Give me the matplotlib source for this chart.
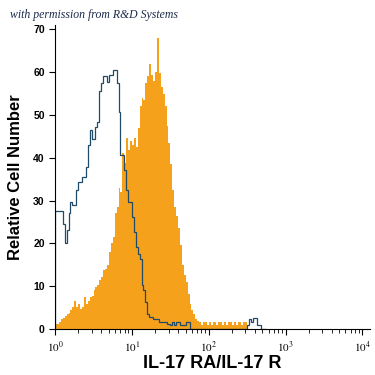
import numpy as np
import matplotlib
matplotlib.use("Agg")
import matplotlib.pyplot as plt

plt.rcParams['font.family'] = ['Liberation Sans', 'DejaVu Sans']
plt.rcParams['mathtext.fontset'] = 'stix'

# histogram channels: 40 bins per decade, starting at 10^0
bins_per_decade = 40

# IL-17 RA/IL-17 R stained cells (filled orange)
stained = [1.2, 1.2, 1.5, 2.3, 2.6, 3.0, 3.5, 3.8, 4.3, 5.0,
           6.5, 5.0, 5.9, 4.7, 5.2, 7.4, 5.9, 6.5, 7.4, 7.8,
           9.0, 9.8, 10.2, 11.5, 12.1, 13.7, 14.0, 15.0, 18.0, 20.0,
           21.5, 27.0, 28.5, 33.0, 32.0, 41.0, 38.7, 44.5, 41.8, 44.0,
           43.0, 44.5, 42.6, 47.0, 52.0, 54.0, 53.5, 57.4, 59.0, 62.0,
           59.4, 58.0, 60.0, 68.0, 59.8, 56.6, 55.0, 52.0, 47.5, 43.5,
           38.5, 32.4, 28.5, 26.5, 23.5, 19.5, 15.0, 12.5, 11.0, 8.2,
           5.9, 4.5, 3.5, 2.2, 1.8, 1.6, 0.8, 1.6, 1.6, 0.8,
           1.6, 0.8, 1.6, 1.6, 0.8, 1.6, 1.6, 0.8, 1.6, 0.8,
           1.6, 1.6, 0.8, 1.6, 0.8, 1.6, 1.6, 0.8, 1.6, 1.6]

# isotype control (outline)
control = [27.6, 27.6, 27.6, 27.6, 24.5, 20.0, 23.0, 27.0, 29.7, 28.9,
           28.9, 32.4, 34.4, 34.4, 35.5, 35.5, 37.9, 43.0, 46.6, 44.3,
           44.3, 47.3, 48.4, 55.5, 57.4, 59.0, 59.0, 57.8, 59.4, 59.4,
           60.5, 60.5, 57.4, 50.8, 40.6, 40.6, 37.1, 32.4, 29.7, 29.7,
           26.2, 22.7, 19.1, 17.6, 16.4, 10.2, 9.0, 6.2, 3.5, 2.7,
           2.7, 2.3, 2.3, 2.3, 1.6, 1.6, 1.6, 1.6, 1.2, 1.2,
           0.8, 1.6, 0.8, 1.6, 1.6, 0.8, 0.8, 0.8, 1.6, 1.6,
           0, 0, 0, 0, 0, 0, 0, 0, 0, 0,
           0, 0, 0, 0, 0, 0, 0, 0, 0, 0,
           0, 0, 0, 0, 0, 0, 0, 0, 0, 0,
           1.0, 2.3, 1.6, 2.5, 2.5, 0.8, 0.8, 0, 0, 0]

stained_edges = 10 ** (np.arange(len(stained) + 1) / bins_per_decade)
control_edges = 10 ** (np.arange(len(control) + 1) / bins_per_decade)

fig = plt.figure(figsize=(3.75, 3.75), dpi=100)
ax = fig.add_axes([0.147, 0.123, 0.84, 0.81])

ax.stairs(stained, stained_edges, fill=True, color='#f5a11c', linewidth=0)
ax.stairs(control, control_edges, color='#1f4a68', linewidth=0.9)

ax.set_xscale('log')
ax.set_xlim(1, 10 ** 4.1)
ax.set_ylim(0, 71)
ax.set_xticks([1, 10, 100, 1000, 10000])
ax.set_xticklabels(['$10^{0}$', '$10^{1}$', '$10^{2}$', '$10^{3}$', '$10^{4}$'], fontsize=8)
ax.set_yticks(range(0, 71, 10))
ax.tick_params(axis='y', labelsize=7.5, length=4, width=0.8)
ax.tick_params(axis='x', which='major', length=4, width=0.8, pad=4)
ax.tick_params(axis='x', which='minor', length=3, width=0.6)
for lab in ax.get_yticklabels():
    lab.set_fontweight('bold')

ax.spines['top'].set_visible(False)
ax.spines['right'].set_visible(False)

ax.set_xlabel('IL-17 RA/IL-17 R', fontsize=13, fontweight='bold', labelpad=0)
ax.set_ylabel('Relative Cell Number', fontsize=12, fontweight='bold', labelpad=7)

fig.text(0.028, 0.952, 'with permission from R&D Systems', fontsize=8.5,
         style='italic', family='Liberation Serif', color='#1a2a4a')

plt.savefig('out.png')
